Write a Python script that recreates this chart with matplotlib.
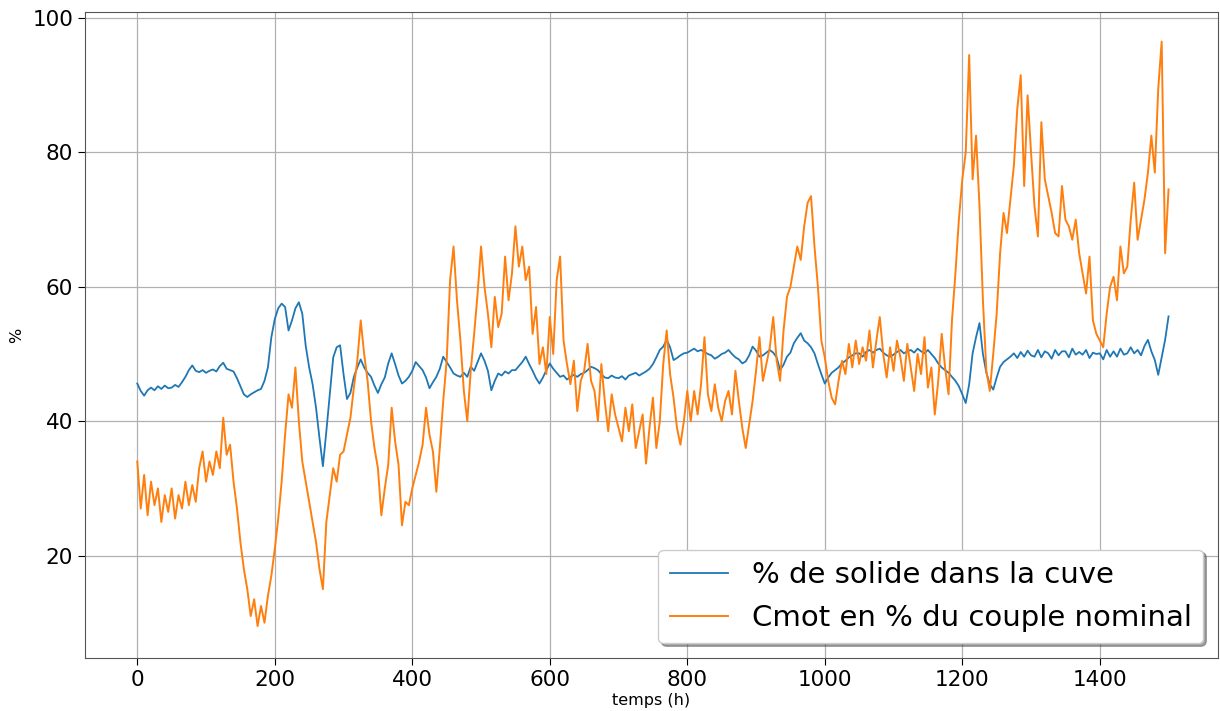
import matplotlib.pyplot as plt
import numpy as np

# hours, one sample every 5 h
step_h = 5

# % de solide dans la cuve
solide = [
    45.6, 44.5, 43.8, 44.6, 45.0, 44.6, 45.2, 44.8, 45.3, 44.9,
    45.0, 45.4, 45.1, 45.8, 46.6, 47.6, 48.3, 47.5, 47.3, 47.6,
    47.2, 47.5, 47.7, 47.4, 48.2, 48.7, 47.8, 47.6, 47.4, 46.4,
    45.2, 44.0, 43.6, 44.0, 44.3, 44.6, 44.8, 46.0, 48.0, 52.5,
    55.2, 56.8, 57.5, 57.0, 53.5, 55.0, 56.8, 57.7, 56.0, 51.2,
    48.0, 45.5, 42.0, 37.5, 33.3, 38.5, 44.0, 49.5, 51.0, 51.3,
    47.0, 43.3, 44.2, 46.6, 48.0, 49.2, 48.0, 47.2, 46.6, 45.3,
    44.2, 45.5, 46.5, 48.6, 50.1, 48.5, 46.8, 45.6, 46.0, 46.6,
    47.5, 48.8, 48.2, 47.6, 46.5, 44.9, 45.8, 46.6, 47.8, 49.6,
    48.8, 48.0, 47.1, 46.8, 46.6, 47.2, 46.6, 48.1, 47.5, 48.8,
    50.1, 49.0, 47.5, 44.6, 46.0, 47.1, 46.8, 47.4, 47.1, 47.6,
    47.6, 48.2, 48.8, 49.6, 48.5, 47.5, 46.4, 45.6, 46.5, 47.6,
    48.6, 47.8, 47.2, 46.6, 46.8, 46.2, 46.6, 46.9, 46.6, 47.0,
    47.2, 47.6, 48.1, 47.9, 47.6, 47.0, 46.5, 46.4, 46.8, 46.5,
    46.4, 46.7, 46.2, 46.8, 47.0, 47.2, 46.8, 47.1, 47.4, 47.8,
    48.5, 49.5, 50.6, 51.1, 52.1, 51.0, 49.1, 49.4, 49.8, 50.1,
    50.2, 50.5, 50.8, 50.4, 50.6, 50.3, 50.0, 49.8, 49.3, 49.6,
    50.0, 50.2, 50.6, 50.0, 49.5, 49.2, 48.6, 48.9, 49.8, 51.1,
    50.5, 49.6, 49.8, 50.2, 50.6, 50.2, 49.5, 47.6, 48.4, 49.6,
    50.2, 51.6, 52.4, 53.1, 52.0, 51.6, 51.0, 50.1, 48.5, 47.0,
    45.6, 46.5, 47.2, 47.6, 48.0, 48.6, 49.0, 49.5, 49.8, 50.1,
    50.1, 49.6, 50.3, 50.6, 50.2, 50.6, 50.8, 50.2, 49.8, 49.6,
    49.9, 50.3, 50.6, 50.1, 50.4, 50.6, 50.2, 50.8, 50.4, 50.1,
    50.6, 50.0, 49.4, 48.6, 48.0, 47.6, 47.2, 46.6, 46.0, 45.2,
    44.0, 42.7, 45.5, 50.1, 52.5, 54.6, 50.0, 47.2, 45.5, 44.7,
    46.5, 48.1, 48.8, 49.2, 49.6, 50.1, 49.4, 50.3, 49.6, 50.5,
    49.8, 49.6, 50.6, 49.5, 50.4, 50.1, 49.3, 50.6, 49.8, 50.4,
    50.4, 49.5, 50.8, 49.9, 50.3, 49.9, 50.6, 49.4, 50.2, 50.0,
    50.1, 49.2, 50.6, 49.6, 50.4, 49.6, 50.8, 49.9, 50.1, 51.0,
    50.1, 50.6, 49.8, 51.2, 52.1, 50.4, 49.1, 46.9, 49.5, 52.1,
    55.6,
]

# Cmot en % du couple nominal
cmot = [
    34.0, 27.0, 32.0, 26.0, 31.0, 27.5, 30.0, 25.0, 29.0, 26.5,
    30.0, 25.5, 29.0, 27.0, 31.0, 27.5, 30.5, 28.0, 33.0, 35.5,
    31.0, 34.0, 32.0, 35.5, 33.0, 40.5, 35.0, 36.5, 31.0, 27.0,
    22.0, 18.0, 15.0, 11.0, 13.5, 9.5, 12.5, 10.0, 14.0, 17.0,
    21.0, 25.5, 31.0, 38.0, 44.0, 42.0, 48.0, 40.0, 34.0, 31.0,
    28.0, 25.0, 22.0, 18.0, 15.0, 25.0, 29.0, 33.0, 31.0, 35.0,
    35.5, 38.0, 40.5, 45.0, 49.0, 55.0, 50.0, 46.0, 40.0, 36.0,
    33.0, 26.0, 30.0, 33.5, 42.0, 37.0, 33.5, 24.5, 28.0, 27.5,
    30.0, 32.0, 34.0, 36.5, 42.0, 38.0, 35.5, 29.5, 36.0, 43.0,
    49.0, 61.0, 66.0, 58.0, 52.0, 44.5, 40.0, 47.5, 53.0, 59.0,
    66.0, 60.0, 56.0, 51.0, 58.5, 54.0, 56.0, 64.5, 58.0, 62.0,
    69.0, 63.0, 66.0, 61.0, 63.0, 53.0, 57.0, 48.5, 51.0, 47.0,
    55.5, 50.0, 61.0, 64.5, 52.0, 48.5, 45.5, 49.0, 41.5, 46.0,
    47.5, 51.5, 46.0, 44.5, 40.0, 48.5, 43.0, 38.5, 44.0, 41.0,
    39.0, 37.0, 42.0, 38.5, 42.5, 36.0, 38.5, 41.0, 33.7, 39.0,
    43.5, 36.0, 40.0, 48.5, 53.5, 47.0, 43.5, 39.0, 36.5, 40.0,
    44.5, 40.0, 44.5, 41.0, 45.5, 52.5, 44.0, 41.5, 45.5, 42.0,
    40.0, 43.0, 44.5, 41.0, 47.5, 43.0, 39.0, 36.0, 39.5, 43.0,
    47.5, 52.5, 46.0, 48.5, 51.0, 55.5, 49.0, 46.0, 53.5, 58.5,
    60.0, 63.0, 66.0, 64.0, 69.0, 72.5, 73.5, 66.0, 60.0, 52.0,
    49.5, 46.0, 43.5, 42.5, 46.0, 49.0, 47.0, 51.5, 48.0, 52.0,
    48.5, 51.0, 49.0, 53.5, 48.0, 52.0, 55.5, 50.0, 46.5, 51.0,
    47.5, 52.0, 49.5, 46.0, 51.5, 48.0, 44.5, 50.0, 47.0, 52.5,
    45.0, 48.0, 41.0, 46.0, 53.0, 48.0, 44.0, 55.0, 62.0, 70.0,
    76.0, 80.0, 94.5, 76.0, 82.5, 72.0, 58.0, 47.5, 44.5, 50.0,
    56.0, 65.0, 71.0, 68.0, 73.0, 78.0, 86.5, 91.5, 75.0, 88.5,
    80.0, 72.0, 67.5, 84.5, 76.0, 73.5, 71.0, 68.0, 67.5, 75.0,
    70.0, 69.0, 67.0, 70.0, 65.0, 62.0, 59.0, 64.5, 55.0, 53.0,
    52.0, 51.0, 56.0, 60.0, 61.5, 58.0, 66.0, 62.0, 63.0, 70.0,
    75.5, 67.0, 70.0, 73.0, 77.0, 82.5, 77.0, 89.5, 96.5, 65.0,
    74.5,
]

hours = np.arange(len(cmot)) * step_h

fig = plt.figure(figsize=(12.2, 7.11), dpi=100)
ax = fig.add_axes([0.0697, 0.0745, 0.9287, 0.9086])

ax.plot(hours, solide, color="#1f77b4", lw=1.3, label="% de solide dans la cuve")
ax.plot(hours, cmot, color="#ff7f0e", lw=1.4, label="Cmot en % du couple nominal")

ax.set_xlim(-76, 1572)
ax.set_ylim(4.75, 100.9)
ax.set_xticks(np.arange(0, 1401, 200))
ax.set_yticks(np.arange(20, 101, 20))
ax.tick_params(labelsize=15.5, length=5)
ax.grid(True, color="#b0b0b0", lw=0.9)

ax.set_xlabel("temps (h)", fontsize=11.5, labelpad=2)
ax.set_ylabel("%", fontsize=11.5, labelpad=6)

for s in ax.spines.values():
    s.set_color("#555555")

ax.legend(loc="lower right", fontsize=21, shadow=True, fancybox=True,
          handlelength=2.0, borderaxespad=0.5)

fig.savefig("out.png", dpi=100)
